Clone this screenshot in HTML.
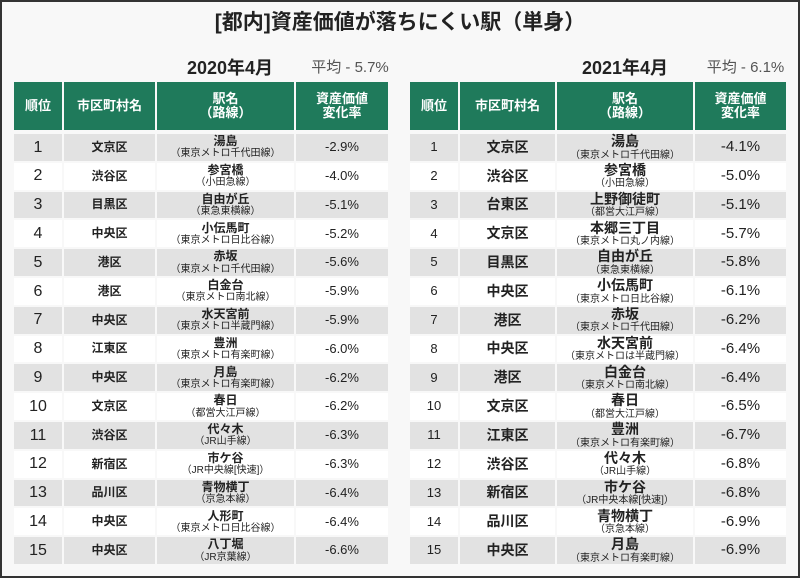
<!DOCTYPE html>
<html><head><meta charset="utf-8">
<style>
body{margin:0;width:800px;height:578px;overflow:hidden;background:#fff;font-family:"Liberation Sans","Noto Sans CJK JP",sans-serif;}
#frame{position:absolute;left:0;top:0;width:796px;height:574px;border:2px solid #333;background:#f8f8f8;}
.t{position:absolute;white-space:nowrap;text-align:center;color:#222;}
.c{position:absolute;display:flex;flex-direction:column;align-items:center;justify-content:center;text-align:center;color:#222;line-height:1.1;}
.h{background:#1f7a5b;color:#fff;font-weight:bold;font-size:13px;}
</style></head><body>
<div id="frame"></div>
<div class="t" style="left:0;width:800px;top:6px;font-size:21px;font-weight:bold;">[都内]資産価値が落ちにくい駅（単身）</div>
<div class="t" style="left:160px;width:140px;top:54px;font-size:18px;font-weight:bold;">2020年4月</div>
<div class="t" style="left:305px;width:90px;top:56px;font-size:15px;color:#555;">平均 - 5.7%</div>
<div class="t" style="left:555px;width:140px;top:54px;font-size:18px;font-weight:bold;">2021年4月</div>
<div class="t" style="left:698px;width:95px;top:56px;font-size:15px;color:#555;">平均 - 6.1%</div>
<div id="root"></div>
<script>
const headers=["順位","市区町村名","駅名<br>（路線）","資産価値<br>変化率"];
const wards2020=["文京区","渋谷区","目黒区","中央区","港区","港区","中央区","江東区","中央区","文京区","渋谷区","新宿区","品川区","中央区","中央区"];
const stations2020=["湯島","参宮橋","自由が丘","小伝馬町","赤坂","白金台","水天宮前","豊洲","月島","春日","代々木","市ケ谷","青物横丁","人形町","八丁堀"];
const lines2020=["東京メトロ千代田線","小田急線","東急東横線","東京メトロ日比谷線","東京メトロ千代田線","東京メトロ南北線","東京メトロ半蔵門線","東京メトロ有楽町線","東京メトロ有楽町線","都営大江戸線","JR山手線","JR中央線[快速]","京急本線","東京メトロ日比谷線","JR京葉線"];
const rates2020=[-2.9,-4.0,-5.1,-5.2,-5.6,-5.9,-5.9,-6.0,-6.2,-6.2,-6.3,-6.3,-6.4,-6.4,-6.6];
const wards2021=["文京区","渋谷区","台東区","文京区","目黒区","中央区","港区","中央区","港区","文京区","江東区","渋谷区","新宿区","品川区","中央区"];
const stations2021=["湯島","参宮橋","上野御徒町","本郷三丁目","自由が丘","小伝馬町","赤坂","水天宮前","白金台","春日","豊洲","代々木","市ケ谷","青物横丁","月島"];
const lines2021=["東京メトロ千代田線","小田急線","都営大江戸線","東京メトロ丸ノ内線","東急東横線","東京メトロ日比谷線","東京メトロ千代田線","東京メトロは半蔵門線","東京メトロ南北線","都営大江戸線","東京メトロ有楽町線","JR山手線","JR中央本線[快速]","京急本線","東京メトロ有楽町線"];
const rates2021=[-4.1,-5.0,-5.1,-5.7,-5.8,-6.1,-6.2,-6.4,-6.4,-6.5,-6.7,-6.8,-6.8,-6.9,-6.9];

const root=document.getElementById('root');
function cell(x,y,w,h,html,cls,bg,fs,name){
  const d=document.createElement('div');
  d.className='c '+(cls||'');
  d.style.cssText=`left:${x}px;top:${y}px;width:${w}px;height:${h}px;`+(bg?`background:${bg};`:'')+(fs?`font-size:${fs}px;`:'');
  d.innerHTML=html;
  
  
  root.appendChild(d);
}
function table(cols,wards,stations,lines,rates,prefix,bold,rankFs){
  headers.forEach((h,i)=>cell(cols[i][0],82,cols[i][1],48,h,'h',null,null,prefix+'-header-'+(i+1)));
  const top=134,rh=28.8;
  for(let r=0;r<wards.length;r++){
    const y=top+r*rh, bg=r%2===0?'#e2e2e2':'#fff';
    cell(cols[0][0],y,cols[0][1],rh-2,String(r+1),'',bg,rankFs,prefix+'-rank-'+(r+1));
    cell(cols[1][0],y,cols[1][1],rh-2,`<span style="font-weight:bold">${wards[r]}</span>`,'',bg,bold?14:12,prefix+'-ward-'+(r+1));
    cell(cols[2][0],y,cols[2][1],rh-2,`<span style="font-weight:bold;font-size:${bold?14:12}px">${stations[r]}</span><span style="font-size:10px">（${lines[r]}）</span>`,'',bg,null,prefix+'-station-'+(r+1));
    cell(cols[3][0],y,cols[3][1],rh-2,rates[r].toFixed(1)+'%','',bg,bold?15:13,prefix+'-rate-'+(r+1));
  }
}
table([[14,48],[64,91],[157,137],[296,92]],wards2020,stations2020,lines2020,rates2020,'left',false,16);
table([[410,48],[460,95],[557,136],[695,91]],wards2021,stations2021,lines2021,rates2021,'right',true,13);
</script>
</body></html>
